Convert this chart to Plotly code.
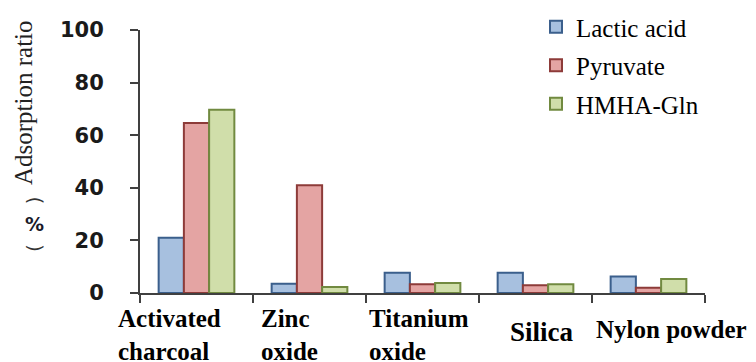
import plotly.graph_objects as go

categories = ["Activated charcoal", "Zinc oxide", "Titanium oxide", "Silica", "Nylon powder"]
tick_labels = ["Activated<br>charcoal", "Zinc<br>oxide", "Titanium<br>oxide", "Silica", "Nylon powder"]
series_names = ["Lactic acid", "Pyruvate", "HMHA-Gln"]
lactic_acid = [21.0, 3.5, 7.7, 7.7, 6.3]
pyruvate = [64.6, 41.0, 3.3, 2.9, 2.0]
hmha_gln = [69.7, 2.3, 3.8, 3.3, 5.3]
y_ticks = [0, 20, 40, 60, 80, 100]

SERIF = "Times New Roman, Liberation Serif, serif"
fills = ["#A7C0DF", "#E4A4A3", "#D0DEAA"]
lines = ["#3B5F8C", "#8D3B39", "#718A40"]

# plot-area geometry in pixels
plot_l, plot_r, plot_t, plot_b = 140, 705, 30, 293
def px_to_paper(px, py):
    return (px - plot_l) / (plot_r - plot_l), (plot_b - py) / (plot_b - plot_t)

# label placement: left x pixel, centre y pixel, font size
label_x = [116, 259, 367, 508, 594]
label_y = [335, 335, 335, 332, 329]
label_size = [25, 25, 25, 27, 25]

xpos = list(range(len(categories)))

fig = go.Figure()
for name, vals, fc, lc in zip(series_names, [lactic_acid, pyruvate, hmha_gln], fills, lines):
    fig.add_trace(go.Bar(
        x=xpos, y=vals, name=name, legendgroup=name,
        marker=dict(color=fc, line=dict(color=lc, width=2)),
    ))

annotations = []
for txt, lx, ly, sz in zip(tick_labels, label_x, label_y, label_size):
    ax, ay = px_to_paper(lx, ly)
    annotations.append(dict(
        x=ax, xref="paper", y=ay, yref="paper",
        text="<b>" + txt + "</b>", showarrow=False, xanchor="left", yanchor="middle",
        align="left", font=dict(family=SERIF, size=sz, color="black"),
    ))

ax, ay = px_to_paper(23, 103)
annotations.append(dict(
    x=ax, xref="paper", y=ay, yref="paper", text="Adsorption ratio",
    showarrow=False, textangle=-90, xanchor="center", yanchor="middle",
    font=dict(family=SERIF, size=25, color="#222"),
))
bx, by = px_to_paper(34, 224)
annotations.append(dict(
    x=bx, xref="paper", y=by, yref="paper", text="(\u2003\u2003)",
    showarrow=False, textangle=-90, xanchor="center", yanchor="middle",
    font=dict(family="DejaVu Sans", size=20, color="#333"),
))
annotations.append(dict(
    x=bx, xref="paper", y=by, yref="paper", text="<b>%</b>",
    showarrow=False, xanchor="center", yanchor="middle",
    font=dict(family="DejaVu Sans", size=19, color="#1a1a2a"),
))

lgx, lgy = px_to_paper(536, 4)

fig.update_layout(
    width=756, height=362,
    margin=dict(l=plot_l, r=756 - plot_r, t=plot_t, b=362 - plot_b, autoexpand=False),
    paper_bgcolor="white", plot_bgcolor="white",
    barmode="group", bargap=0.33, bargroupgap=0,
    showlegend=True,
    legend=dict(
        x=lgx, xanchor="left", y=lgy, yanchor="top",
        font=dict(family=SERIF, size=25, color="black"),
        traceorder="grouped", tracegroupgap=3,
        bgcolor="rgba(0,0,0,0)", itemwidth=30,
    ),
    xaxis=dict(
        range=[-0.5, 4.5], tickmode="array",
        tickvals=[i - 0.5 for i in range(len(categories) + 1)],
        ticktext=[""] * (len(categories) + 1),
        showticklabels=False, ticks="outside", ticklen=8, tickwidth=2, tickcolor="#404040",
        showline=True, linecolor="#404040", linewidth=2, showgrid=False, zeroline=False,
        automargin=False,
    ),
    yaxis=dict(
        range=[0, 100], tickmode="array", tickvals=y_ticks,
        ticktext=["<b>%d</b>" % v for v in y_ticks],
        ticks="outside", ticklen=8, tickwidth=2, tickcolor="#404040",
        showline=True, linecolor="#404040", linewidth=2, showgrid=False, zeroline=False,
        tickfont=dict(family="DejaVu Sans", size=21, color="#1a1a1a"),
        ticklabelstandoff=22, automargin=False,
    ),
    annotations=annotations,
)

fig.write_html(
    "out.html",
    config={"displayModeBar": False},
    post_script="document.body.style.margin='0';document.body.style.overflow='hidden';",
)
